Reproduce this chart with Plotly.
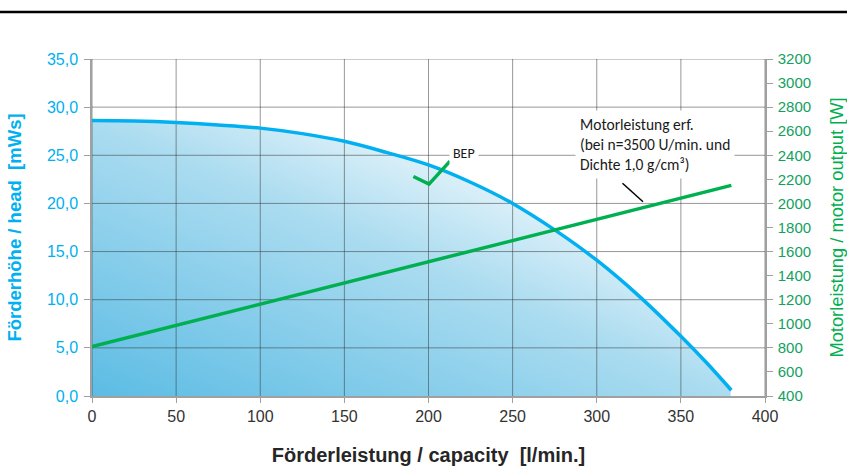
import plotly.graph_objects as go

# ---- data ----
head_x = [0, 25, 50, 75, 100, 125, 150, 175, 200, 225, 250, 275, 300, 325, 350, 365, 380]
head_y = [28.6, 28.55, 28.4, 28.15, 27.82, 27.25, 26.45, 25.3, 24.0, 22.2, 20.0, 17.25, 14.1, 10.4, 6.2, 3.5, 0.6]

power_x = [0, 380]
power_y = [810, 2150]

bep_x = [191.0, 200.3, 212.8]
bep_y = [22.8, 22.0, 24.4]

pointer_x = [315.3, 327.5]
pointer_y = [22.1, 20.17]

x_ticks = [0, 50, 100, 150, 200, 250, 300, 350, 400]
y_ticks = [0, 5, 10, 15, 20, 25, 30, 35]
y2_ticks = list(range(400, 3201, 200))

CYAN = "#00b0f0"
GREEN = "#00b050"
GREEN_T = "#12a060"
GRID = "rgba(50,50,50,0.5)"

fig = go.Figure()

# gradient background (style layer): diagonal, dark bottom-left -> white top-right
gx = [-100, 500]
gy = [-10, 45]
xmax_fill = max(head_x)
ymax_fill = max(head_y)
gz = [[(xx / xmax_fill + yy / ymax_fill) / 2 for xx in gx] for yy in gy]
fig.add_trace(go.Heatmap(
    x=gx, y=gy, z=gz, zsmooth="best", zmin=0, zmax=1, showscale=False,
    colorscale=[[0, "#5cbce4"], [0.5, "#abdcf0"], [0.78, "#f3fafd"], [1, "#ffffff"]],
    hoverinfo="skip"))

# white mask above curve
fig.add_trace(go.Scatter(x=head_x, y=[36] * len(head_x), mode="lines",
                         line=dict(width=0, color="white"), hoverinfo="skip", showlegend=False))
fig.add_trace(go.Scatter(x=head_x, y=head_y, mode="lines", fill="tonexty", fillcolor="white",
                         line=dict(width=0, color="white", shape="spline"), hoverinfo="skip",
                         showlegend=False))
# white mask right of curve end
xe = head_x[-1] - 0.4
fig.add_trace(go.Scatter(x=[xe, xe, 410, 410], y=[-1, 36, 36, -1], mode="lines", fill="toself",
                         fillcolor="white", line=dict(width=0, color="white"), hoverinfo="skip",
                         showlegend=False))

# grid lines (above the fill, below the curves)
vgx, vgy = [], []
for xv in x_ticks:
    vgx += [xv, xv, None]
    vgy += [y_ticks[0], y_ticks[-1], None]
hgx, hgy = [], []
for yv in y_ticks[1:]:
    hgx += [x_ticks[0], x_ticks[-1], None]
    hgy += [yv, yv, None]
fig.add_trace(go.Scatter(x=vgx + hgx, y=vgy + hgy, mode="lines",
                         line=dict(width=1, color=GRID), hoverinfo="skip", showlegend=False))

# head curve
fig.add_trace(go.Scatter(x=head_x, y=head_y, mode="lines",
                         line=dict(width=3.5, color=CYAN, shape="spline"), showlegend=False))

# BEP check mark
fig.add_trace(go.Scatter(x=bep_x, y=bep_y, mode="lines",
                         line=dict(width=3.5, color=GREEN), showlegend=False))

# pointer line
fig.add_trace(go.Scatter(x=pointer_x, y=pointer_y, mode="lines",
                         line=dict(width=1.5, color="black"), showlegend=False))

# motor power line (right axis)
fig.add_trace(go.Scatter(x=power_x, y=power_y, mode="lines", yaxis="y2",
                         line=dict(width=3.5, color=GREEN), showlegend=False))

PL, PR, PT, PB = 92, 82, 59, 70
W, H = 847, 466
pw = W - PL - PR
ph = H - PT - PB

fig.update_layout(
    width=W, height=H, autosize=False,
    margin=dict(l=PL, r=PR, t=PT, b=PB, pad=0, autoexpand=False),
    paper_bgcolor="white", plot_bgcolor="white",
    separators=",.",
    font=dict(family="Liberation Sans, Arial, sans-serif"),
    xaxis=dict(range=[0, 400], tickvals=x_ticks, showgrid=False, zeroline=False, automargin=False,
               showline=True, linecolor="#a0a0a0", linewidth=1.5,
               ticks="outside", ticklen=5, tickcolor="#a0a0a0",
               tickfont=dict(size=16, color="#333333"),
               title=dict(text="<b>Förderleistung / capacity  [l/min.]</b>",
                          font=dict(size=20, color="#262626"), standoff=25)),
    yaxis=dict(range=[0, 35], tickvals=y_ticks, tickformat=".1f", showgrid=False, zeroline=False,
               automargin=False,
               showline=True, linecolor="#a0a0a0", linewidth=1.5,
               ticks="outside", ticklen=6, tickcolor="#a0a0a0", ticklabelstandoff=3,
               tickfont=dict(size=16, color=CYAN),
               title=dict(text="<b>Förderhöhe / head  [mWs]</b>",
                          font=dict(size=18.5, color=CYAN), standoff=20)),
    yaxis2=dict(range=[400, 3200], tickvals=y2_ticks, overlaying="y", side="right",
                showgrid=False, zeroline=False, automargin=False,
                showline=True, linecolor="#a0a0a0", linewidth=1.5,
                ticks="outside", ticklen=6, tickcolor="#a0a0a0", ticklabelstandoff=2,
                tickfont=dict(size=15, color=GREEN_T),
                title=dict(text="Motorleistung / motor output [W]",
                           font=dict(size=18.3, color=GREEN), standoff=20)),
    showlegend=False,
)

# top black rule
fig.add_shape(type="line", xref="paper", yref="paper",
              x0=-PL / pw, x1=(W - PL) / pw, y0=(ph + PT - 12) / ph, y1=(ph + PT - 12) / ph,
              line=dict(color="black", width=2.5))

fig.add_annotation(x=212, y=25.2, xref="x", yref="y", text="BEP", showarrow=False,
                   xanchor="left", yanchor="middle", bgcolor="white", borderpad=3,
                   font=dict(family="Carlito, Lato, sans-serif", size=14, color="#1a1a1a"))
fig.add_annotation(x=287, y=26.1, xref="x", yref="y",
                   text="Motorleistung erf.<br>(bei n=3500 U/min. und<br>Dichte 1,0 g/cm³)",
                   showarrow=False, align="left", xanchor="left", yanchor="middle",
                   bgcolor="white", borderpad=4,
                   font=dict(family="Carlito, Lato, sans-serif", size=15.5, color="#1a1a1a"))

fig.write_html("out.html", config={"displayModeBar": False},
               post_script="document.body.style.margin='0';")
